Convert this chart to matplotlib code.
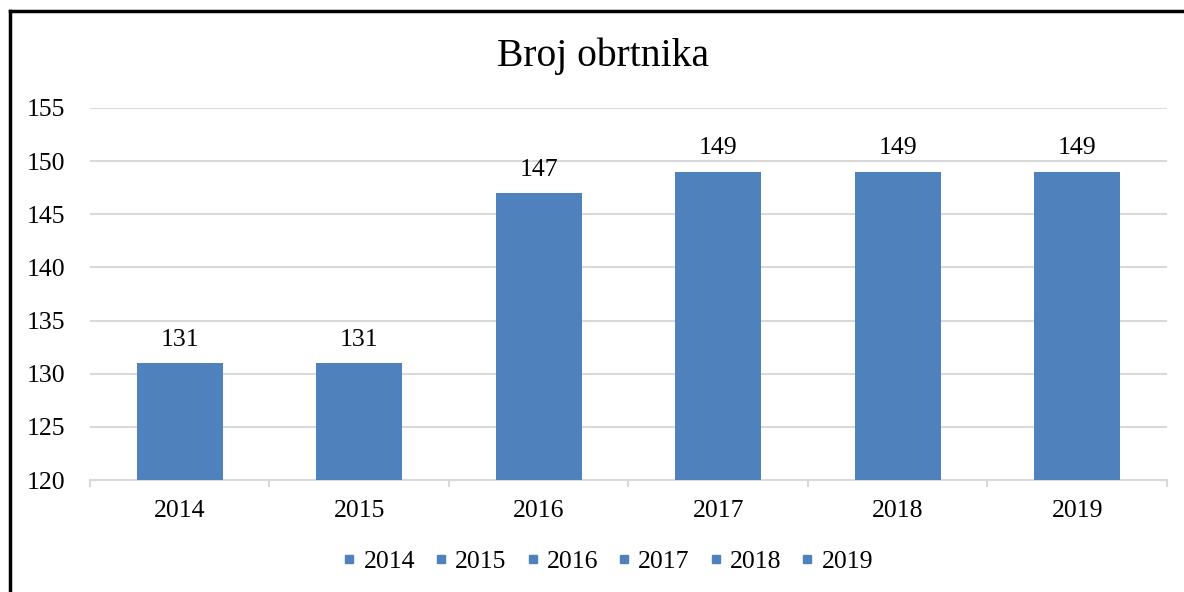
import matplotlib.pyplot as plt
from matplotlib.lines import Line2D

years = ["2014", "2015", "2016", "2017", "2018", "2019"]
counts = [131, 131, 147, 149, 149, 149]
y_ticks = [120, 125, 130, 135, 140, 145, 150, 155]

BAR_COLOR = "#4F81BD"
GRID_COLOR = "#D9D9D9"

plt.rcParams["font.family"] = ["Liberation Serif", "DejaVu Serif"]

fig = plt.figure(figsize=(11.84, 5.92), dpi=100)
ax = fig.add_axes([0.076, 0.189, 0.9096, 0.6286])

x = range(len(years))
bars = ax.bar(x, counts, width=0.48, color=BAR_COLOR, zorder=3)
ax.bar_label(bars, labels=[str(c) for c in counts], padding=9, fontsize=18.5)

ax.set_ylim(120, 155)
ax.set_xlim(-0.5, len(years) - 0.5)
ax.set_yticks(y_ticks)
ax.set_yticklabels([str(t) for t in y_ticks], fontsize=18.5)
ax.set_xticks(list(x))
ax.set_xticklabels(years, fontsize=18.5)
ax.set_xticks([i - 0.5 for i in range(len(years) + 1)], minor=True)

ax.tick_params(axis="y", length=0, pad=18)
ax.tick_params(axis="x", which="major", length=0, pad=14)
ax.tick_params(axis="x", which="minor", length=5, width=1.5, color=GRID_COLOR)

ax.yaxis.grid(True, color=GRID_COLOR, linewidth=1.5, zorder=0)
for side in ["left", "right", "top"]:
    ax.spines[side].set_visible(False)
ax.spines["bottom"].set_color(GRID_COLOR)
ax.spines["bottom"].set_linewidth(1.5)

fig.text(0.509, 0.905, "Broj obrtnika", ha="center", va="center", fontsize=28.5)

handles = [Line2D([], [], marker="s", linestyle="none", markersize=6,
                  color=BAR_COLOR, label=y) for y in years]
fig.legend(handles=handles, loc="center", bbox_to_anchor=(0.5135, 0.052),
           ncol=len(years), frameon=False, fontsize=18.5, handlelength=0.5,
           handletextpad=0.3, columnspacing=0.76)

# black frame on the top and left edges
fig.add_artist(Line2D([0.0085, 1.0], [0.981, 0.981], color="black",
                      linewidth=2.5, transform=fig.transFigure))
fig.add_artist(Line2D([0.0085, 0.0085], [0.0, 0.981], color="black",
                      linewidth=2.5, transform=fig.transFigure))

fig.savefig("out.png", dpi=100)
